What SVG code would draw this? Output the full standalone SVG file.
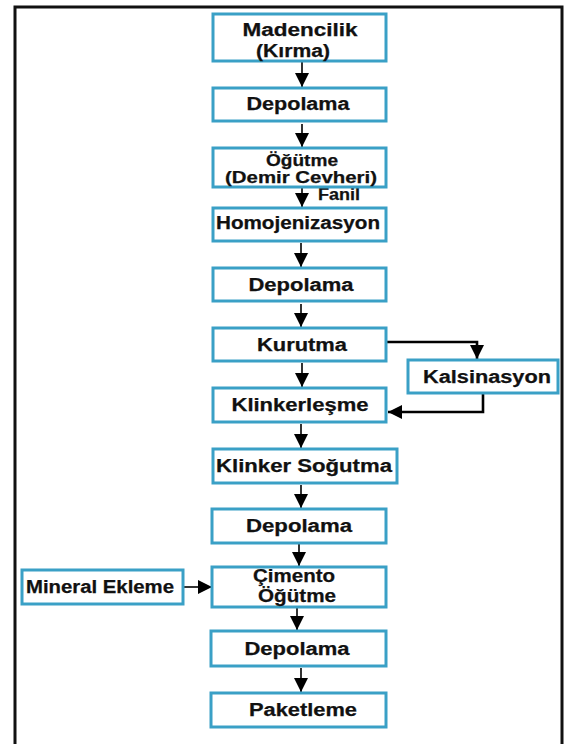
<svg xmlns="http://www.w3.org/2000/svg" width="577" height="744" viewBox="0 0 577 744">
  <style>
    .box { fill: #ffffff; stroke: #3aa0c6; stroke-width: 3; }
    .lbl { font-family: "Liberation Sans", Arial, sans-serif; font-weight: bold; font-size: 18px; fill: #111111; stroke: #111111; stroke-width: 0.25; text-anchor: middle; }
    .sm { font-size: 16px; }
    .flow { fill: none; stroke: #000000; stroke-width: 1.6; }
    .loop { fill: none; stroke: #000000; stroke-width: 2.6; }
  </style>
  <defs>
    <marker id="head" markerUnits="userSpaceOnUse" markerWidth="14" markerHeight="14" viewBox="0 0 12 12" refX="12" refY="6" orient="auto">
      <path d="M0,0 L12,6 L0,12 z" fill="#000000"/>
    </marker>
  </defs>

  <rect width="577" height="744" fill="#ffffff"/>
  <!-- outer frame (bottom edge runs off the page) -->
  <rect x="15" y="7" width="547" height="760" fill="none" stroke="#111111" stroke-width="3"/>

  <!-- connectors -->
  <g id="connectors">
    <line class="flow" x1="302" y1="62" x2="302" y2="87" marker-end="url(#head)"/>
    <line class="flow" x1="302" y1="124" x2="302" y2="147" marker-end="url(#head)"/>
    <line class="flow" x1="302" y1="187" x2="302" y2="207" marker-end="url(#head)"/>
    <line class="flow" x1="301" y1="243" x2="301" y2="267" marker-end="url(#head)"/>
    <line class="flow" x1="301" y1="304" x2="301" y2="327" marker-end="url(#head)"/>
    <line class="flow" x1="302" y1="363" x2="302" y2="387" marker-end="url(#head)"/>
    <line class="flow" x1="301" y1="424" x2="301" y2="448" marker-end="url(#head)"/>
    <line class="flow" x1="301" y1="485" x2="301" y2="508" marker-end="url(#head)"/>
    <line class="flow" x1="299" y1="544" x2="299" y2="566" marker-end="url(#head)"/>
    <line class="flow" x1="297" y1="604" x2="297" y2="630" marker-end="url(#head)"/>
    <line class="flow" x1="301" y1="668" x2="301" y2="692" marker-end="url(#head)"/>
    <polyline class="loop" points="387,342 477,342 477,359" marker-end="url(#head)"/>
    <polyline class="loop" points="483,394 483,412 388,412" marker-end="url(#head)"/>
    <line class="flow" x1="183" y1="587" x2="212" y2="587" marker-end="url(#head)"/>
    <text class="lbl sm" x="339" y="200" textLength="42" lengthAdjust="spacingAndGlyphs">Fanil</text>
  </g>

  <g id="madencilik">
    <rect class="box" x="213" y="14" width="173" height="47"/>
    <text class="lbl" x="300" y="36" textLength="115" lengthAdjust="spacingAndGlyphs">Madencilik</text>
    <text class="lbl" x="293" y="57" textLength="74" lengthAdjust="spacingAndGlyphs">(Kırma)</text>
  </g>
  <g id="depolama1">
    <rect class="box" x="213" y="88" width="173" height="33"/>
    <text class="lbl" x="298" y="110" textLength="103" lengthAdjust="spacingAndGlyphs">Depolama</text>
  </g>
  <g id="ogutme">
    <rect class="box" x="213" y="148" width="173" height="39"/>
    <text class="lbl sm" x="302" y="166" textLength="72" lengthAdjust="spacingAndGlyphs">Öğütme</text>
    <text class="lbl sm" x="301" y="183" textLength="152" lengthAdjust="spacingAndGlyphs">(Demir Cevheri)</text>
  </g>
  <g id="homojenizasyon">
    <rect class="box" x="213" y="208" width="173" height="33"/>
    <text class="lbl" x="298" y="229" textLength="164" lengthAdjust="spacingAndGlyphs">Homojenizasyon</text>
  </g>
  <g id="depolama2">
    <rect class="box" x="213" y="268" width="173" height="33"/>
    <text class="lbl" x="301" y="291" textLength="105" lengthAdjust="spacingAndGlyphs">Depolama</text>
  </g>
  <g id="kurutma">
    <rect class="box" x="213" y="328" width="173" height="33"/>
    <text class="lbl" x="302" y="351" textLength="90" lengthAdjust="spacingAndGlyphs">Kurutma</text>
  </g>
  <g id="kalsinasyon">
    <rect class="box" x="408" y="360" width="150" height="33"/>
    <text class="lbl" x="487" y="383" textLength="128" lengthAdjust="spacingAndGlyphs">Kalsinasyon</text>
  </g>
  <g id="klinkerlesme">
    <rect class="box" x="213" y="388" width="173" height="34"/>
    <text class="lbl" x="300" y="411" textLength="137" lengthAdjust="spacingAndGlyphs">Klinkerleşme</text>
  </g>
  <g id="klinker-sogutma">
    <rect class="box" x="213" y="449" width="184" height="34"/>
    <text class="lbl" x="304" y="472" textLength="176" lengthAdjust="spacingAndGlyphs">Klinker Soğutma</text>
  </g>
  <g id="depolama3">
    <rect class="box" x="212" y="509" width="174" height="34"/>
    <text class="lbl" x="299" y="532" textLength="106" lengthAdjust="spacingAndGlyphs">Depolama</text>
  </g>
  <g id="mineral-ekleme">
    <rect class="box" x="22" y="570" width="161" height="34"/>
    <text class="lbl" x="100" y="593" textLength="148" lengthAdjust="spacingAndGlyphs">Mineral Ekleme</text>
  </g>
  <g id="cimento-ogutme">
    <rect class="box" x="212" y="567" width="174" height="40"/>
    <text class="lbl" x="294" y="582" textLength="82" lengthAdjust="spacingAndGlyphs">Çimento</text>
    <text class="lbl" x="297" y="602" textLength="78" lengthAdjust="spacingAndGlyphs">Öğütme</text>
  </g>
  <g id="depolama4">
    <rect class="box" x="211" y="631" width="175" height="35"/>
    <text class="lbl" x="297" y="655" textLength="105" lengthAdjust="spacingAndGlyphs">Depolama</text>
  </g>
  <g id="paketleme">
    <rect class="box" x="211" y="693" width="175" height="34"/>
    <text class="lbl" x="303" y="716" textLength="108" lengthAdjust="spacingAndGlyphs">Paketleme</text>
  </g>
</svg>
